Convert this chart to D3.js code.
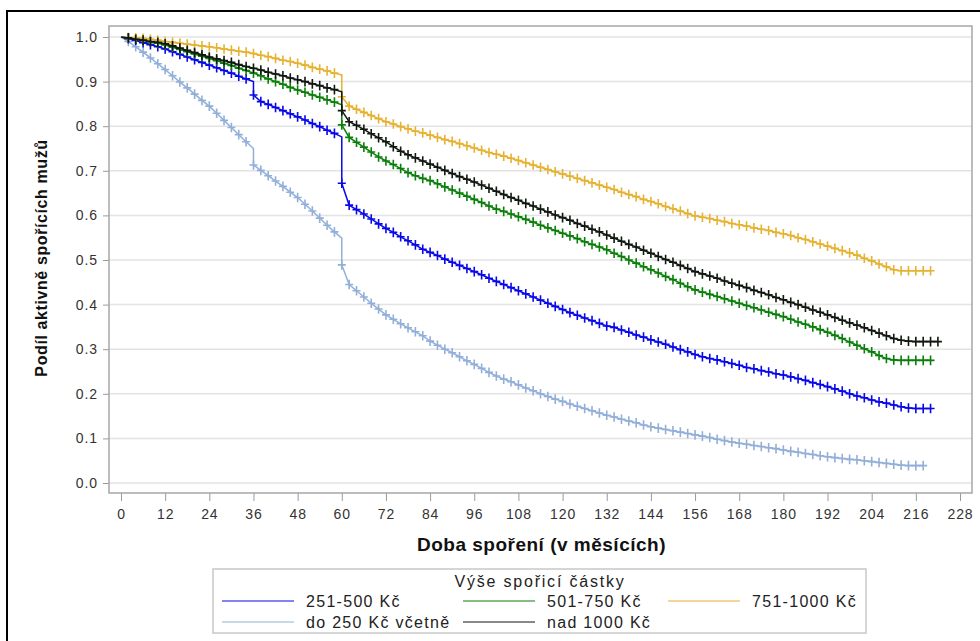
<!DOCTYPE html>
<html>
<head>
<meta charset="utf-8">
<script src="https://cdn.jsdelivr.net/npm/d3@7/dist/d3.min.js"></script>
<style>
  body { margin: 0; background: #fff; }
  svg text { font-family: "Liberation Sans", Arial, sans-serif; }
</style>
</head>
<body>
<svg id="chart" width="980" height="641"></svg>
<script>
// Months of the survival estimates; 36 and 60 appear twice (value before / after the drop)
const months = [0,2,4,6,8,10,12,14,16,18,20,22,24,26,28,30,32,34,36,36,38,40,42,44,46,48,50,52,54,56,58,60,60,
  62,64,66,68,70,72,74,76,78,80,82,84,86,88,90,92,94,96,98,100,102,104,106,108,110,112,114,116,118,120,
  122,124,126,128,130,132,134,136,138,140,142,144,146,148,150,152,154,156,158,160,162,164,166,168,170,172,174,176,178,180,
  182,184,186,188,190,192,194,196,198,200,202,204,206,208,210,212,214,216,218,220,222];

const seriesNames = ["251-500 Kč", "501-750 Kč", "751-1000 Kč", "do 250 Kč včetně", "nad 1000 Kč"];

const s251_500 = [1.000,0.996,0.992,0.987,0.983,0.978,0.973,0.967,0.961,0.955,0.949,0.943,0.937,0.931,0.925,0.919,0.912,0.906,0.900,
  0.870,0.855,0.849,0.842,0.835,0.828,0.821,0.814,0.806,0.799,0.791,0.784,0.776,
  0.672,0.623,0.613,0.603,0.592,0.581,0.571,0.562,0.552,0.543,0.534,0.524,0.517,0.510,0.502,0.495,0.488,0.481,0.474,0.467,0.459,0.452,0.445,0.438,0.431,
  0.424,0.417,0.410,0.403,0.396,0.389,0.382,0.376,0.370,0.364,0.358,0.352,0.349,0.343,0.338,0.332,0.327,0.321,0.316,0.311,0.305,0.299,0.294,0.288,0.283,
  0.279,0.276,0.272,0.268,0.264,0.259,0.256,0.252,0.249,0.245,0.242,0.238,0.234,0.230,0.225,0.221,0.216,0.211,0.206,0.200,0.195,0.191,0.186,0.182,0.179,
  0.175,0.171,0.168,0.167,0.167,0.167,null];

const s501_750 = [1.000,0.998,0.995,0.992,0.989,0.986,0.982,0.977,0.972,0.967,0.962,0.957,0.952,0.947,0.941,0.936,0.930,0.925,0.919,
  0.919,0.913,0.906,0.900,0.894,0.887,0.881,0.876,0.870,0.865,0.859,0.854,0.848,
  0.803,0.775,0.764,0.753,0.742,0.731,0.722,0.714,0.705,0.696,0.689,0.683,0.678,0.671,0.664,0.657,0.650,0.643,0.636,0.629,0.621,0.614,0.609,0.603,0.597,
  0.591,0.585,0.578,0.572,0.566,0.560,0.554,0.548,0.541,0.535,0.529,0.523,0.515,0.508,0.500,0.493,0.485,0.478,0.471,0.463,0.456,0.448,0.440,0.433,
  0.428,0.423,0.418,0.413,0.408,0.403,0.398,0.393,0.388,0.383,0.378,0.373,0.367,0.361,0.356,0.350,0.344,0.338,0.331,0.324,0.316,0.309,0.301,0.294,0.286,
  0.279,0.276,0.275,0.275,0.275,0.275,0.275,null];

const s751_1000 = [1.000,0.999,0.998,0.997,0.995,0.993,0.990,0.988,0.986,0.984,0.982,0.980,0.978,0.976,0.973,0.971,0.968,0.966,0.963,
  0.963,0.959,0.956,0.952,0.948,0.945,0.941,0.937,0.932,0.928,0.924,0.919,0.915,
  0.866,0.845,0.838,0.831,0.824,0.817,0.810,0.805,0.799,0.794,0.789,0.785,0.780,0.775,0.770,0.766,0.761,0.756,0.751,0.746,0.741,0.737,0.733,0.728,0.723,
  0.718,0.713,0.708,0.703,0.698,0.693,0.688,0.683,0.678,0.673,0.668,0.663,0.658,0.652,0.647,0.642,0.636,0.631,0.626,0.620,0.615,0.610,0.604,0.599,
  0.596,0.593,0.589,0.586,0.582,0.579,0.576,0.572,0.569,0.566,0.562,0.559,0.555,0.550,0.546,0.541,0.536,0.531,0.526,0.521,0.516,0.511,0.504,0.498,0.491,
  0.485,0.478,0.476,0.476,0.476,0.476,0.476,null];

const sDo250 = [1.000,0.990,0.978,0.966,0.953,0.940,0.927,0.913,0.899,0.886,0.872,0.858,0.845,0.829,0.813,0.797,0.781,0.765,0.750,
  0.713,0.701,0.689,0.677,0.665,0.652,0.640,0.625,0.610,0.594,0.578,0.563,0.549,
  0.489,0.445,0.431,0.417,0.403,0.390,0.377,0.367,0.357,0.348,0.339,0.330,0.318,0.309,0.300,0.292,0.283,0.274,0.266,0.257,0.248,0.240,0.233,0.227,0.220,
  0.213,0.207,0.200,0.194,0.188,0.183,0.177,0.172,0.167,0.162,0.157,0.152,0.148,0.143,0.139,0.135,0.130,0.126,0.123,0.120,0.117,0.114,0.111,0.108,
  0.105,0.102,0.098,0.095,0.092,0.089,0.087,0.084,0.082,0.079,0.077,0.074,0.071,0.069,0.066,0.064,0.061,0.059,0.057,0.055,0.053,0.052,0.050,0.048,0.046,
  0.044,0.042,0.040,0.039,0.039,0.039,null,null];

const sNad1000 = [1.000,0.998,0.995,0.993,0.990,0.988,0.985,0.980,0.975,0.970,0.965,0.960,0.955,0.951,0.947,0.943,0.938,0.934,0.930,
  0.930,0.926,0.921,0.917,0.913,0.908,0.904,0.900,0.895,0.891,0.886,0.882,0.877,
  0.835,0.810,0.802,0.793,0.783,0.774,0.765,0.754,0.744,0.736,0.729,0.722,0.715,0.708,0.701,0.694,0.687,0.681,0.675,0.668,0.661,0.654,0.647,0.640,0.634,
  0.627,0.621,0.614,0.608,0.601,0.595,0.589,0.582,0.576,0.569,0.563,0.556,0.549,0.542,0.535,0.529,0.522,0.515,0.508,0.501,0.495,0.488,0.481,0.474,
  0.469,0.464,0.459,0.453,0.448,0.443,0.438,0.432,0.427,0.422,0.416,0.411,0.405,0.400,0.394,0.388,0.383,0.377,0.371,0.365,0.359,0.354,0.348,0.342,0.336,
  0.330,0.324,0.320,0.318,0.317,0.317,0.317,0.317];

const seriesValues = [s251_500, s501_750, s751_1000, sDo250, sNad1000];
const seriesColors = ["#0808e8", "#0a7f0a", "#e6b232", "#92afd9", "#111811"];
const drawOrder = [3, 0, 1, 2, 4];

const xTicks = [0,12,24,36,48,60,72,84,96,108,120,132,144,156,168,180,192,204,216,228];
const yTicks = [0,0.1,0.2,0.3,0.4,0.5,0.6,0.7,0.8,0.9,1.0];

const xTitle = "Doba spoření (v měsících)";
const yTitle = "Podíl aktivně spořících mužů";
const legendTitle = "Výše spořicí částky";

const svg = d3.select("#chart");

// outer frame
svg.append("rect").attr("x", 7).attr("y", 11).attr("width", 990).attr("height", 650)
  .attr("fill", "none").attr("stroke", "#000").attr("stroke-width", 2);

const x = d3.scaleLinear().domain([0, 228]).range([121, 960]);
const y = d3.scaleLinear().domain([0, 1]).range([483, 37]);

const fx0 = x(0) - 12, fx1 = x(228) + 12, fy0 = y(1) - 11, fy1 = y(0) + 10;

// horizontal grid
svg.append("g").selectAll("line").data(yTicks).join("line")
  .attr("x1", fx0).attr("x2", fx1)
  .attr("y1", d => y(d)).attr("y2", d => y(d))
  .attr("stroke", "#e3e3e3").attr("stroke-width", 1.5);

const tickFont = sel => sel.attr("fill", "#333").style("font-size", "14px")
  .style("font-family", "'Liberation Sans', Arial, sans-serif").style("letter-spacing", "0.9px");

// y axis
const yAxis = svg.append("g").attr("transform", `translate(${fx0},0)`)
  .call(d3.axisLeft(y).tickValues(yTicks).tickFormat(d3.format(".1f")).tickSize(6).tickPadding(5));
yAxis.select(".domain").remove();
yAxis.selectAll(".tick line").attr("stroke", "#9a9a9a");
yAxis.selectAll(".tick text").call(tickFont);

// x axis
const xAxis = svg.append("g").attr("transform", `translate(0,${fy1})`)
  .call(d3.axisBottom(x).tickValues(xTicks).tickFormat(d3.format("d")).tickSize(8).tickPadding(8));
xAxis.select(".domain").remove();
xAxis.selectAll(".tick line").attr("stroke", "#9a9a9a");
xAxis.selectAll(".tick text").call(tickFont);

// plot frame
svg.append("rect").attr("x", fx0).attr("y", fy0).attr("width", fx1 - fx0).attr("height", fy1 - fy0)
  .attr("fill", "none").attr("stroke", "#a6a6a6").attr("stroke-width", 1.5);

// survival curves with censoring marks
const line = d3.line().defined(d => d[1] !== null).x(d => x(d[0])).y(d => y(d[1]));
drawOrder.forEach(si => {
  const vals = seriesValues[si];
  const pts = months.map((m, i) => [m, vals[i], i]);
  const g = svg.append("g");
  g.append("path").datum(pts).attr("d", line)
    .attr("fill", "none").attr("stroke", seriesColors[si]).attr("stroke-width", 1.5);
  const marks = pts.filter(p => p[1] !== null && p[2] > 0 && months[p[2] + 1] !== p[0]);
  g.selectAll("path.mark").data(marks).join("path").attr("class", "mark")
    .attr("d", p => {
      const cx = x(p[0]), cy = y(p[1]);
      return `M${cx - 4},${cy}H${cx + 4}M${cx},${cy - 4.8}V${cy + 4.8}`;
    })
    .attr("stroke", seriesColors[si]).attr("stroke-width", 1.6).attr("fill", "none");
});

// axis titles
svg.append("text").attr("x", (x(0) + x(228)) / 2 + 1).attr("y", 551).attr("text-anchor", "middle")
  .style("font-size", "19px").style("font-weight", "bold").style("letter-spacing", "0.5px")
  .attr("fill", "#111").text(xTitle);
svg.append("text").attr("transform", `translate(47,258) rotate(-90)`).attr("text-anchor", "middle")
  .style("font-size", "16px").style("font-weight", "bold").style("letter-spacing", "0.6px")
  .attr("fill", "#111").text(yTitle);

// legend
const lg = svg.append("g");
lg.append("rect").attr("x", 213).attr("y", 569).attr("width", 653).attr("height", 64)
  .attr("fill", "#fff").attr("stroke", "#c8c8c8").attr("stroke-width", 1.5);
lg.append("text").attr("x", 540).attr("y", 586.5).attr("text-anchor", "middle")
  .style("font-size", "16px").style("letter-spacing", "1.8px").attr("fill", "#222").text(legendTitle);

const legendCols = [222, 463, 668];
const legendRows = [601, 622];
const legendSlots = [[0, 0], [0, 1], [0, 2], [1, 0], [1, 1]];
seriesNames.forEach((name, si) => {
  const [r, c] = legendSlots[si];
  const lx = legendCols[c], ly = legendRows[r];
  lg.append("line").attr("x1", lx).attr("x2", lx + 72).attr("y1", ly).attr("y2", ly)
    .attr("stroke", seriesColors[si]).attr("stroke-width", 1.2);
  lg.append("text").attr("x", lx + 84).attr("y", ly + 5.5)
    .style("font-size", "16px").style("letter-spacing", "1.3px").attr("fill", "#222").text(name);
});
</script>
</body>
</html>
